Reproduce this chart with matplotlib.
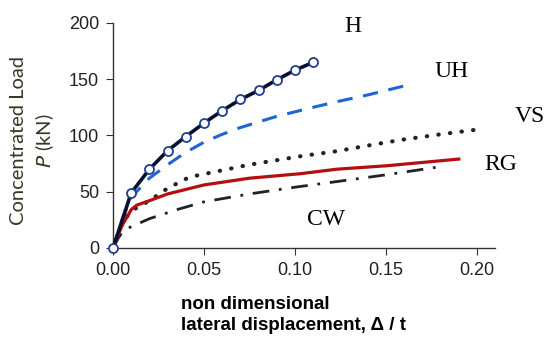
import matplotlib
matplotlib.use("Agg")
import matplotlib.pyplot as plt

# curves: x = Delta / t, y = P (kN)
h_x = [0.0, 0.01, 0.02, 0.03, 0.04, 0.05, 0.06, 0.07, 0.08, 0.09, 0.10, 0.11]
h_y = [0, 49, 70, 86.5, 99, 111, 122, 132, 140, 149.5, 158, 165]

uh_x = [0.0, 0.005, 0.01, 0.02, 0.03, 0.04, 0.05, 0.06, 0.07, 0.08, 0.09,
        0.10, 0.11, 0.123, 0.14, 0.16]
uh_y = [0, 25, 45, 62, 74, 85, 94, 101, 107, 112, 117, 121, 125, 130, 136, 144]

vs_x = [0.0, 0.005, 0.01, 0.019, 0.03, 0.042, 0.06, 0.075, 0.09, 0.103,
        0.123, 0.14, 0.158, 0.18, 0.204]
vs_y = [0, 22, 33, 41, 53, 63, 69, 74, 78, 81.5, 86, 91, 96, 101, 106]

rg_x = [0.0, 0.005, 0.010, 0.013, 0.02, 0.03, 0.04, 0.05, 0.075, 0.103,
        0.123, 0.15, 0.19]
rg_y = [0, 20, 34, 38, 42, 48, 52, 56, 62, 66, 70, 73, 79]

cw_x = [0.0, 0.003, 0.006, 0.02, 0.035, 0.05, 0.075, 0.10, 0.123, 0.15, 0.179]
cw_y = [0, 9, 16, 26, 34, 41, 48, 54, 59, 65, 72]

labels = ["H", "UH", "VS", "RG", "CW"]
label_x = [0.132, 0.186, 0.229, 0.213, 0.117]
label_y = [197, 157, 117, 74, 25]

fig = plt.figure(figsize=(5.46, 3.42), dpi=100)
ax = fig.add_axes([0.207, 0.275, 0.70, 0.658])

ax.plot(uh_x, uh_y, color="#1f64d6", lw=2.2, dashes=(5, 3.5))
ax.plot(vs_x, vs_y, color="#222222", lw=3.0, linestyle=(0, (0.1, 2.7)),
        dash_capstyle="round")
ax.plot(cw_x, cw_y, color="#222222", lw=2.0, dashes=(6, 3.5, 1, 3.5))
ax.plot(rg_x, rg_y, color="#b30f12", lw=2.3)
ax.plot(h_x, h_y, color="#0a0f2e", lw=2.6, marker="o", ms=6.5,
        mfc="white", mec="#1f3f8f", mew=1.3, clip_on=False, zorder=5)

for t, lx, ly in zip(labels, label_x, label_y):
    ax.text(lx, ly, t, family="Liberation Serif", fontsize=17,
            ha="center", va="center", clip_on=False)

ax.set_xlim(0, 0.21)
ax.set_ylim(0, 200)
ax.set_xticks([0.0, 0.05, 0.10, 0.15, 0.20])
ax.set_xticklabels(["0.00", "0.05", "0.10", "0.15", "0.20"])
ax.set_yticks([0, 50, 100, 150, 200])
ax.spines["top"].set_visible(False)
ax.spines["right"].set_visible(False)
for s in ["left", "bottom"]:
    ax.spines[s].set_linewidth(1.0)
    ax.spines[s].set_color("#333333")
ax.tick_params(labelsize=13, length=5, pad=5, color="#333333",
               labelcolor="#222222")
for lab in ax.get_xticklabels() + ax.get_yticklabels():
    lab.set_family("Liberation Sans")

fig.text(0.331, 0.08, "non dimensional\nlateral displacement, \u0394 / t",
         family="Liberation Sans", fontweight="bold", fontsize=13.5,
         ha="left", va="center", linespacing=1.3)
fig.text(0.06, 0.59, "Concentrated Load\n$\\it{P}$ (kN)", family="Lato",
         fontsize=14.5, color="#3b3626", rotation=90, ha="center",
         va="center", linespacing=1.35, multialignment="center")

fig.savefig("out.png", dpi=100)
